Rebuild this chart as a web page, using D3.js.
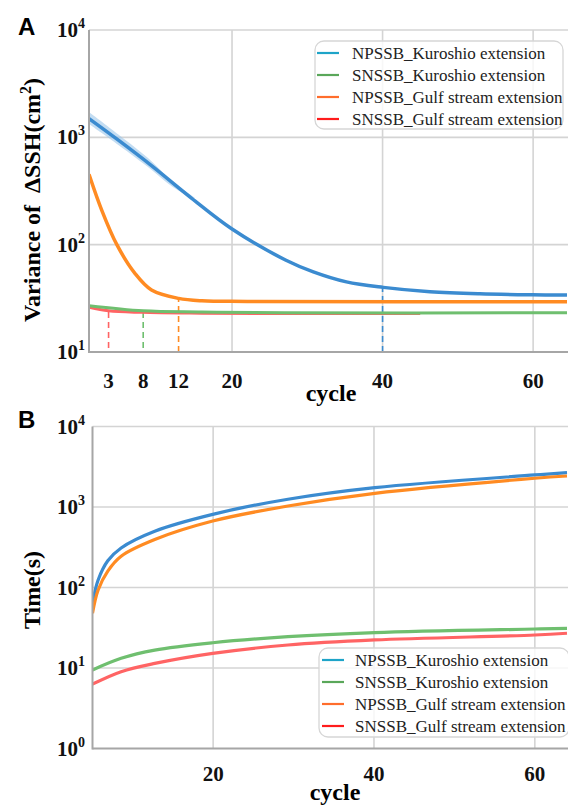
<!DOCTYPE html>
<html lang="en">
<head>
<meta charset="UTF-8">
<title>Variance of SSH and time vs cycle</title>
<script src="https://d3js.org/d3.v7.min.js"></script>
<style>
    body { margin: 0; background: #fff; }
    svg { display: block; }
    .serif { font-family: "Liberation Serif", "Times New Roman", serif; }
    .bold { font-weight: bold; }
</style>
</head>
<body>
<script>

    var seriesNames = ["NPSSB_Kuroshio extension", "SNSSB_Kuroshio extension",
        "NPSSB_Gulf stream extension", "SNSSB_Gulf stream extension"];
    var lineColors = ["#3b8bd0", "#6fbf6f", "#ff8b22", "#ff6464"];
    var legendColors = ["#1ea4c8", "#5aa75a", "#ff6d2c", "#ff1c1c"];

    // panel A : variance of dSSH (cm^2)
    var cycA_npKu = [1, 4.9, 9.3, 14.6, 20, 27.1, 30.8, 35.2, 40.1, 46.3, 52.9, 59.9, 64.5];
    var varA_npKu = [1493, 940, 545, 272, 140, 72, 55.8, 45, 40, 36.4, 34.8, 34.1, 33.9];
    var cycA_band = [1, 4.9, 9.3, 12, 15];
    var bandLow = [1330, 850, 500, 350, 262];
    var bandHigh = [1720, 1060, 600, 390, 276];
    var cycA_snKu = [1, 8.2, 16, 27, 64.5];
    var varA_snKu = [27, 24.2, 23.6, 23.2, 23.2];
    var cycA_npGs = [1, 2.7, 4.7, 7.1, 9.3, 12.9, 16, 22, 64.5];
    var varA_npGs = [453, 209, 100, 54, 37.8, 31.6, 30, 29.6, 29.4];
    var cycA_snGs = [1, 3.6, 8, 16, 27, 45];
    var varA_snGs = [26.2, 24.2, 23.4, 23.0, 22.8, 22.8];

    // dashed markers in panel A (cycle where each curve settles)
    var markCycles = [3.6, 8.2, 12.9, 40];
    var markTop = [23.8, 23.5, 31.6, 40];
    var markBottom = [10.9, 10.9, 10, 10];
    var markColors = ["#ff6464", "#6fbf6f", "#ff8b22", "#3b8bd0"];
    var xTicksA = [3.6, 8.2, 12.9, 20, 40, 60];
    var xTickLabelsA = ["3", "8", "12", "20", "40", "60"];

    // panel B : time (s)
    var cycB = [5, 5.7, 6.9, 8.56, 12.74, 19.95, 29.3, 40.1, 60, 64];
    var timeB_npKu = [63.7, 124, 215, 310, 500, 811, 1247, 1738, 2500, 2670];
    var timeB_npGs = [47.8, 93, 160, 245, 395, 670, 1029, 1480, 2275, 2427];
    var cycB2 = [5, 8.56, 12.74, 19.95, 29.3, 40.1, 60, 64];
    var timeB_snKu = [9.45, 13.2, 16.7, 20.6, 24.5, 27.5, 30.5, 31.1];
    var timeB_snGs = [6.3, 9.0, 11.4, 15.2, 19.3, 22.3, 25.7, 27];
    var xTicksB = [20, 40, 60];

    var width = 568;
    var height = 807;

    var svg = d3.select("body").append("svg")
        .attr("width", width)
        .attr("height", height);

    // ---------- panel A ----------
    var xA = d3.scaleLinear().domain([1, 64.5]).range([89, 567]);
    var yA = d3.scaleLog().domain([10, 10000]).range([352, 30]);

    // ---------- panel B ----------
    var xB = d3.scaleLinear().domain([5, 64]).range([92.5, 567]);
    var yB = d3.scaleLog().domain([1, 10000]).range([748.5, 426.5]);

    function drawGrid(x, y, xGrid, yGrid) {
        var g = svg.append("g");
        g.selectAll(".vg").data(xGrid).enter().append("line")
            .attr("x1", function (d) { return x(d); })
            .attr("x2", function (d) { return x(d); })
            .attr("y1", y.range()[0])
            .attr("y2", y.range()[1])
            .attr("stroke", "#d4d4d4")
            .attr("stroke-width", 1.6);
        g.selectAll(".hg").data(yGrid).enter().append("line")
            .attr("x1", x.range()[0])
            .attr("x2", x.range()[1] + 2)
            .attr("y1", function (d) { return y(d); })
            .attr("y2", function (d) { return y(d); })
            .attr("stroke", "#d4d4d4")
            .attr("stroke-width", 1.6);
    }

    function drawFrame(x, y) {
        svg.append("line")
            .attr("x1", x.range()[0]).attr("x2", x.range()[0])
            .attr("y1", y.range()[0] + 1).attr("y2", y.range()[1])
            .attr("stroke", "#a6a6a6").attr("stroke-width", 2);
        svg.append("line")
            .attr("x1", x.range()[0]).attr("x2", x.range()[1] + 2)
            .attr("y1", y.range()[0]).attr("y2", y.range()[0])
            .attr("stroke", "#a6a6a6").attr("stroke-width", 2);
    }

    function yTickLabels(y, exps, xRight) {
        var t = svg.append("g").selectAll("text").data(exps).enter().append("text")
            .attr("class", "serif bold")
            .attr("x", xRight)
            .attr("y", function (d) { return y(Math.pow(10, d)) + 7; })
            .attr("text-anchor", "end")
            .attr("font-size", "21px")
            .attr("fill", "#111");
        t.append("tspan").text("10");
        t.append("tspan").attr("dy", -9).attr("font-size", "14px").text(function (d) { return d; });
    }

    function xTickLabels(x, ticks, labels, yPos) {
        svg.append("g").selectAll("text").data(ticks).enter().append("text")
            .attr("class", "serif bold")
            .attr("x", function (d) { return x(d); })
            .attr("y", yPos)
            .attr("text-anchor", "middle")
            .attr("font-size", "21px")
            .attr("fill", "#111")
            .text(function (d, i) { return labels[i]; });
    }

    function addLine(g, x, y, cyc, vals, color, w) {
        var line = d3.line()
            .x(function (d) { return x(d[0]); })
            .y(function (d) { return y(d[1]); })
            .curve(d3.curveCatmullRom.alpha(0.5));
        g.append("path")
            .datum(d3.zip(cyc, vals))
            .attr("d", line)
            .attr("fill", "none")
            .attr("stroke", color)
            .attr("stroke-width", w)
            .attr("stroke-linecap", "butt");
    }

    function drawLegend(x0, y0, w, h, lineX, textX) {
        var g = svg.append("g");
        g.append("rect")
            .attr("x", x0).attr("y", y0)
            .attr("width", w).attr("height", h)
            .attr("rx", 9)
            .attr("fill", "#fff").attr("fill-opacity", 0.8)
            .attr("stroke", "#d6d6d6").attr("stroke-width", 1.3);
        var rows = g.selectAll(".row").data(seriesNames).enter().append("g")
            .attr("transform", function (d, i) { return "translate(0," + (y0 + 12 + i * 22) + ")"; });
        rows.append("line")
            .attr("x1", lineX).attr("x2", lineX + 22)
            .attr("y1", 0).attr("y2", 0)
            .attr("stroke", function (d, i) { return legendColors[i]; })
            .attr("stroke-width", 2.2);
        rows.append("text")
            .attr("class", "serif")
            .attr("x", textX)
            .attr("y", 6)
            .attr("font-size", "17px")
            .attr("fill", "#222")
            .text(function (d) { return d; });
    }

    // clip paths
    var defs = svg.append("defs");
    defs.append("clipPath").attr("id", "clipA").append("rect")
        .attr("x", 89).attr("y", 28).attr("width", 480).attr("height", 326);
    defs.append("clipPath").attr("id", "clipB").append("rect")
        .attr("x", 92.5).attr("y", 424).attr("width", 476).attr("height", 326);

    // ===== Panel A =====
    drawGrid(xA, yA, [20, 40, 60], [100, 1000, 10000]);

    var gA = svg.append("g").attr("clip-path", "url(#clipA)");

    var area = d3.area()
        .x(function (d) { return xA(d[0]); })
        .y0(function (d) { return yA(d[1]); })
        .y1(function (d) { return yA(d[2]); })
        .curve(d3.curveCatmullRom.alpha(0.5));
    gA.append("path")
        .datum(d3.zip(cycA_band, bandLow, bandHigh))
        .attr("d", area)
        .attr("fill", "#9cc7ea")
        .attr("fill-opacity", 0.6);

    // dashed markers
    gA.selectAll(".mark").data(markCycles).enter().append("line")
        .attr("x1", function (d) { return xA(d); })
        .attr("x2", function (d) { return xA(d); })
        .attr("y1", function (d, i) { return yA(markBottom[i]); })
        .attr("y2", function (d, i) { return yA(markTop[i]); })
        .attr("stroke", function (d, i) { return markColors[i]; })
        .attr("stroke-width", 1.6)
        .attr("stroke-dasharray", "6,4");

    addLine(gA, xA, yA, cycA_npKu, varA_npKu, lineColors[0], 3.5);
    addLine(gA, xA, yA, cycA_npGs, varA_npGs, lineColors[2], 3.5);
    addLine(gA, xA, yA, cycA_snGs, varA_snGs, lineColors[3], 3);
    addLine(gA, xA, yA, cycA_snKu, varA_snKu, lineColors[1], 3);

    drawFrame(xA, yA);
    yTickLabels(yA, [1, 2, 3, 4], 85);
    xTickLabels(xA, xTicksA, xTickLabelsA, 388);

    svg.append("text")
        .attr("class", "serif bold")
        .attr("x", 331).attr("y", 401)
        .attr("text-anchor", "middle")
        .attr("font-size", "24px")
        .text("cycle");

    var yLabA = svg.append("text")
        .attr("class", "serif bold")
        .attr("transform", "translate(40,200) rotate(-90)")
        .attr("text-anchor", "middle")
        .attr("font-size", "24px");
    yLabA.append("tspan").text("Variance of\u00a0\u00a0\u0394SSH(cm");
    yLabA.append("tspan").attr("dy", -9).attr("font-size", "16px").text("2");
    yLabA.append("tspan").attr("dy", 9).text(")");

    svg.append("text")
        .attr("x", 18).attr("y", 35)
        .attr("font-family", "Liberation Sans, Arial, sans-serif")
        .attr("font-weight", "bold")
        .attr("font-size", "24px")
        .text("A");

    drawLegend(315, 41, 248, 88, 317, 352);

    // ===== Panel B =====
    drawGrid(xB, yB, xTicksB, [10, 100, 1000, 10000]);

    var gB = svg.append("g").attr("clip-path", "url(#clipB)");
    addLine(gB, xB, yB, cycB, timeB_npKu, lineColors[0], 3.2);
    addLine(gB, xB, yB, cycB, timeB_npGs, lineColors[2], 3.2);
    addLine(gB, xB, yB, cycB2, timeB_snKu, lineColors[1], 3.2);
    addLine(gB, xB, yB, cycB2, timeB_snGs, lineColors[3], 3.2);

    drawFrame(xB, yB);
    yTickLabels(yB, [0, 1, 2, 3, 4], 85);
    xTickLabels(xB, xTicksB, ["20", "40", "60"], 781);

    svg.append("text")
        .attr("class", "serif bold")
        .attr("x", 335).attr("y", 800)
        .attr("text-anchor", "middle")
        .attr("font-size", "24px")
        .text("cycle");

    svg.append("text")
        .attr("class", "serif bold")
        .attr("transform", "translate(40,590) rotate(-90)")
        .attr("text-anchor", "middle")
        .attr("font-size", "24px")
        .text("Time(s)");

    svg.append("text")
        .attr("x", 18).attr("y", 428)
        .attr("font-family", "Liberation Sans, Arial, sans-serif")
        .attr("font-weight", "bold")
        .attr("font-size", "24px")
        .text("B");

    drawLegend(319, 648, 250, 89, 322, 355);

</script>
</body>
</html>
